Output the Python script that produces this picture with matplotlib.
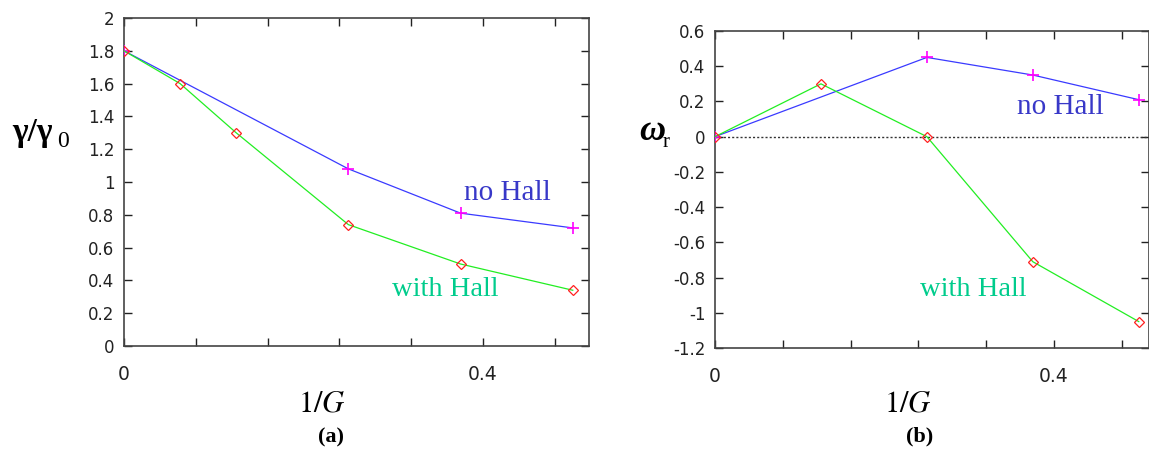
import matplotlib
matplotlib.use("Agg")
import matplotlib.pyplot as plt
import numpy as np

# ---- data ----
x_nohall = [0.0, 0.25, 0.375, 0.5]
x_hall = [0.0, 0.0625, 0.125, 0.25, 0.375, 0.5]
growth_nohall = [1.8, 1.08, 0.81, 0.72]
growth_hall = [1.8, 1.6, 1.3, 0.74, 0.5, 0.34]

xw_nohall = [0.0, 0.25, 0.375, 0.5]
xw_hall = [0.0, 0.125, 0.25, 0.375, 0.5]
omega_nohall = [0.0, 0.45, 0.35, 0.21]
omega_hall = [0.0, 0.3, 0.0, -0.71, -1.05]

xticks = [0.0, 0.08, 0.16, 0.24, 0.32, 0.4, 0.48]
xticklabels = ["0", "", "", "", "", "0.4", ""]

W, H = 1149, 449
fig = plt.figure(figsize=(W / 100, H / 100), dpi=100)
plt.rcParams["mathtext.fontset"] = "stix"

BLUE = "#3a3aff"
GREEN = "#22ee22"
MAG = "#ff00ff"
RED = "#ff2020"
TXT_BLUE = "#3838c8"
TXT_GREEN = "#00cc8c"
SPINE = "#444444"


def px_axes(l, t, r, b):
    return fig.add_axes([l / W, 1 - b / H, (r - l) / W, (b - t) / H])


def style(ax, ymin, ymax, ystep):
    ax.set_ylim(ymin, ymax)
    vals = np.round(np.arange(ymin, ymax + 1e-9, ystep), 2) + 0.0
    ax.set_yticks(vals)
    ax.set_yticklabels([("%g" % (v if abs(v) > 1e-9 else 0.0)) for v in vals])
    ax.set_xticks(xticks)
    ax.set_xticklabels(xticklabels)
    ax.tick_params(direction="in", length=6, width=1, color="#222222",
                   top=True, right=True, labelsize=12, colors="#222222")
    ax.tick_params(axis="x", pad=14, labelsize=13.5)
    ax.tick_params(axis="y", pad=7)
    for s in ax.spines.values():
        s.set_color(SPINE)
        s.set_linewidth(1.2)


# ---- panel (a) ----
ax1 = px_axes(124, 18, 589, 346)
ax1.set_xlim(0, (589 - 124) / 359 * 0.4)
style(ax1, 0, 2, 0.2)
ax1.plot(x_nohall, growth_nohall, color=BLUE, lw=0.9, marker="+", ms=9,
         mec=MAG, mew=1.2, zorder=3)
ax1.plot(x_hall, growth_hall, color=GREEN, lw=0.9, marker="D", ms=5,
         mfc="none", mec=RED, mew=0.9, zorder=3)
ax1.text(507 / W, 1 - 193 / H, "no Hall", transform=fig.transFigure, color=TXT_BLUE,
         fontsize=21, family="Liberation Serif", ha="center", va="center")
ax1.text(445 / W, 1 - 290 / H, "with Hall", transform=fig.transFigure, color=TXT_GREEN,
         fontsize=20.5, family="Liberation Serif", ha="center", va="center")

# ---- panel (b) ----
ax2 = px_axes(715, 31, 1149, 348)
ax2.set_xlim(0, (1149 - 715) / 847.5)
style(ax2, -1.2, 0.6, 0.2)
ax2.axhline(0, color="#333333", lw=1.0, ls=(0, (1.5, 1.5)), zorder=2)
ax2.plot(xw_nohall, omega_nohall, color=BLUE, lw=0.9, marker="+", ms=9,
         mec=MAG, mew=1.2, zorder=3)
ax2.plot(xw_hall, omega_hall, color=GREEN, lw=0.9, marker="D", ms=5,
         mfc="none", mec=RED, mew=0.9, zorder=3)
ax2.text(1060 / W, 1 - 107 / H, "no Hall", transform=fig.transFigure, color=TXT_BLUE,
         fontsize=21, family="Liberation Serif", ha="center", va="center")
ax2.text(973 / W, 1 - 290 / H, "with Hall", transform=fig.transFigure, color=TXT_GREEN,
         fontsize=20.5, family="Liberation Serif", ha="center", va="center")

# ---- axis labels ----
fig.text(12 / W, 1 - 141 / H, "γ/γ", family="Liberation Serif", fontweight="bold",
         fontsize=24, ha="left", va="baseline")
fig.text(57 / W, 1 - 147 / H, "0", family="Liberation Serif",
         fontsize=17, ha="left", va="baseline")
fig.text(639 / W, 1 - 140 / H, "ω", family="Liberation Serif", fontweight="bold",
         fontstyle="italic", fontsize=26, ha="left", va="baseline")
fig.text(663 / W, 1 - 147 / H, "r", family="Liberation Serif",
         fontsize=15, ha="left", va="baseline")

fig.text(322 / W, 1 - 403 / H, r"$1/G$", fontsize=22, ha="center", va="center")
fig.text(908 / W, 1 - 403 / H, r"$1/G$", fontsize=22, ha="center", va="center")
fig.text(331 / W, 1 - 437 / H, "(a)", family="Liberation Serif", fontweight="bold",
         fontsize=16, ha="center", va="center")
fig.text(920 / W, 1 - 436 / H, "(b)", family="Liberation Serif", fontweight="bold",
         fontsize=16, ha="center", va="center")

fig.savefig("out.png", dpi=100)
